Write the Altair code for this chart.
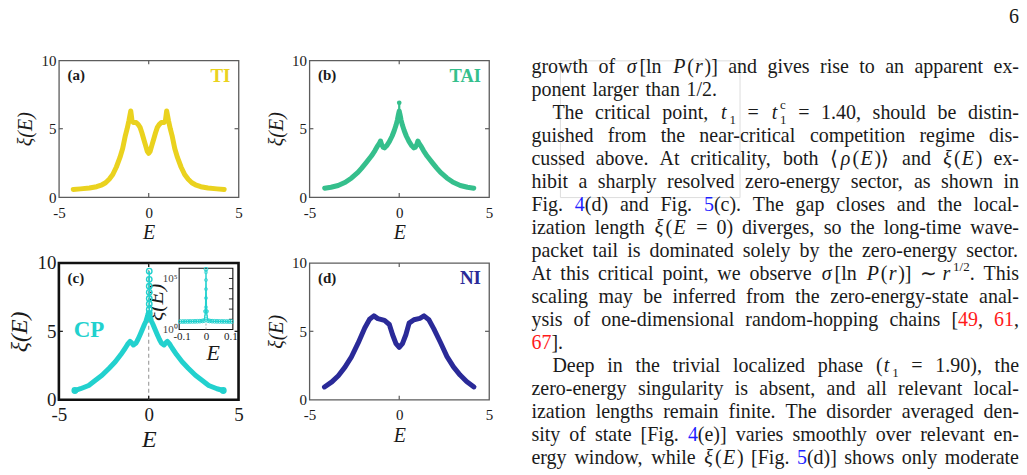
import re
import altair as alt
import pandas as pd

# ---------------- ξ(E) curves for the four phases ----------------
TI_E = [-4.2, -3.8, -3.3, -2.9, -2.6, -2.4, -2.2, -2.0, -1.8, -1.6, -1.45, -1.3, -1.2, -1.1, -1.0,
        -0.93, -0.85, -0.7, -0.58, -0.48, -0.38, -0.28, -0.18, -0.08, 0.0, 0.08, 0.18, 0.28, 0.38,
        0.48, 0.58, 0.7, 0.85, 0.93, 1.0, 1.1, 1.2, 1.3, 1.45, 1.6, 1.8, 2.0, 2.2, 2.4, 2.6, 2.9,
        3.3, 3.8, 4.2]
TI_XI = [0.56, 0.6, 0.66, 0.76, 0.9, 1.05, 1.3, 1.65, 2.2, 2.9, 3.55, 4.5, 5.0, 5.6, 6.3,
         5.6, 5.45, 5.45, 5.3, 5.1, 4.7, 4.25, 3.8, 3.35, 3.2, 3.35, 3.8, 4.25, 4.7,
         5.1, 5.3, 5.45, 5.45, 5.6, 6.3, 5.6, 5.0, 4.5, 3.55, 2.9, 2.2, 1.65, 1.3, 1.05, 0.9, 0.76,
         0.66, 0.6, 0.55]

TAI_E = [-4.15, -3.8, -3.4, -3.0, -2.65, -2.3, -2.1, -1.85, -1.55, -1.35, -1.2, -1.1, -1.04, -0.98,
         -0.9, -0.82, -0.7, -0.55, -0.4, -0.28, -0.18, -0.1, -0.05, 0.0, 0.05, 0.1, 0.18, 0.28, 0.4,
         0.55, 0.7, 0.82, 0.9, 0.98, 1.04, 1.1, 1.2, 1.35, 1.55, 1.85, 2.1, 2.3, 2.65, 3.0, 3.4, 3.8,
         4.15]
TAI_XI = [0.65, 0.72, 0.85, 1.08, 1.4, 1.8, 2.1, 2.5, 3.0, 3.4, 3.75, 3.95, 4.1, 3.85,
          3.65, 3.6, 3.75, 4.05, 4.45, 4.85, 5.25, 5.65, 6.0, 6.3, 6.0, 5.65, 5.25, 4.85, 4.45,
          4.05, 3.75, 3.6, 3.65, 3.85, 4.1, 3.95, 3.75, 3.4, 3.0, 2.5, 2.1, 1.8, 1.4, 1.08, 0.85, 0.72,
          0.65]
TAI_SPIKE_E = [0.0, 0.0]
TAI_SPIKE_XI = [6.0, 6.9]

CP_E = [-4.11, -3.8, -3.34, -3.0, -2.6, -2.2, -1.86, -1.55, -1.31, -1.15, -1.04, -0.95, -0.85, -0.7,
        -0.6, -0.48, -0.35, -0.24, -0.15, -0.07, -0.03, 0.03, 0.07, 0.15, 0.24, 0.35, 0.48, 0.6,
        0.7, 0.85, 0.95, 1.04, 1.15, 1.31, 1.55, 1.86, 2.2, 2.6, 3.0, 3.34, 3.8, 4.15]
CP_XI = [0.67, 0.8, 1.04, 1.38, 1.78, 2.3, 2.77, 3.3, 3.76, 4.1, 4.26, 4.15, 4.0, 4.15,
         4.4, 4.75, 5.15, 5.5, 5.75, 6.1, 6.3, 6.3, 6.1, 5.75, 5.5, 5.15, 4.75, 4.4,
         4.15, 4.0, 4.15, 4.26, 4.1, 3.76, 3.3, 2.77, 2.3, 1.78, 1.38, 1.04, 0.8, 0.67]
# open-circle samples climbing the E = 0 singularity
CP_COL_E = [0.03, 0.03, 0.03, 0.03, 0.03, 0.03, 0.03, 0.03]
CP_COL_XI = [6.3, 6.6, 7.0, 7.4, 7.85, 8.3, 8.8, 9.4]

NI_E = [-4.16, -3.75, -3.39, -3.02, -2.66, -2.29, -1.92, -1.65, -1.41, -1.19, -0.82, -0.55, -0.37,
        -0.18, 0.0, 0.18, 0.37, 0.55, 0.82, 1.15, 1.38, 1.65, 1.92, 2.29, 2.66, 3.02, 3.39, 3.75,
        4.16]
NI_XI = [0.93, 1.3, 1.75, 2.38, 3.13, 4.13, 5.25, 5.88, 6.13, 5.93, 5.8, 5.5, 4.75,
         4.1, 3.83, 4.1, 4.75, 5.6, 5.85, 5.95, 6.13, 5.85, 5.2, 4.2, 3.15, 2.4, 1.8, 1.33,
         0.93]

# inset of (c): ξ(E) near E = 0 on a log axis
IN_E = [-0.105, -0.095, -0.085, -0.075, -0.065, -0.055, -0.045, -0.035, -0.025, -0.015, -0.007,
        -0.002, 0.0, 0.002, 0.007, 0.015, 0.025, 0.035, 0.045, 0.055, 0.065, 0.075, 0.085, 0.095,
        0.105]
IN_XI = [6.0, 6.05, 6.1, 6.15, 6.2, 6.25, 6.3, 6.4, 6.6, 6.9, 7.6,
         60.0, 800000.0, 60.0, 7.6, 6.9, 6.6, 6.4, 6.3, 6.25, 6.2, 6.15, 6.1, 6.05,
         6.0]
IN_STEM_E = [0.0, 0.0, 0.0, 0.0, 0.0, 0.0]
IN_STEM_XI = [20.0, 150.0, 1200.0, 9000.0, 70000.0, 400000.0]

# axis ticks
X_TICKS = [-5, 0, 5]
Y_TICKS = [0, 5, 10]
IN_X_TICKS = [-0.1, 0, 0.1]
IN_Y_TICKS = [1, 100000]
IN_Y_MINOR = [10, 100, 1000, 10000, 100000]

# body text (markup: {i:..} italic, {sub:..}, {sup:..}, {ss:a|b} stacked, {b:..} blue, {r:..} red)
TEXT_LINES = [
    "growth of {i:σ}[ln {i:P}({i:r})] and gives rise to an apparent ex-",
    "ponent larger than 1/2.",
    "The critical point, {i:t}{sub:1} = {i:t}{ss:1|c} = 1.40, should be distin-",
    "guished from the near-critical competition regime dis-",
    "cussed above. At criticality, both ⟨{i:ρ}({i:E})⟩ and {i:ξ}({i:E}) ex-",
    "hibit a sharply resolved zero-energy sector, as shown in",
    "Fig. {b:4}(d) and Fig. {b:5}(c). The gap closes and the local-",
    "ization length {i:ξ}({i:E} = 0) diverges, so the long-time wave-",
    "packet tail is dominated solely by the zero-energy sector.",
    "At this critical point, we observe {i:σ}[ln {i:P}({i:r})] ∼ {i:r}{sup:1/2}. This",
    "scaling may be inferred from the zero-energy-state anal-",
    "ysis of one-dimensional random-hopping chains [{r:49}, {r:61},",
    "{r:67}].",
    "Deep in the trivial localized phase ({i:t}{sub:1} = 1.90), the",
    "zero-energy singularity is absent, and all relevant local-",
    "ization lengths remain finite. The disorder averaged den-",
    "sity of state [Fig. {b:4}(e)] varies smoothly over relevant en-",
    "ergy window, while {i:ξ}({i:E}) [Fig. {b:5}(d)] shows only moderate",
]
TEXT_JUSTIFY = [True, False, True, True, True, True, True, True, True,
                True, True, True, False, True, True, True, True, True]
TEXT_INDENT = [False, False, True, False, False, False, False, False, False,
               False, False, False, False, True, False, False, False, False]
PAGE_NUMBER = "6"

# ---------------- styling / layout ----------------
SERIF = "Liberation Serif"
INK = "#1a1a1a"
C_TI, C_TAI, C_CP, C_NI = "#EAD21E", "#35BF8C", "#22D1CE", "#2A2A98"
LINK_BLUE, LINK_RED = "#1f1fff", "#ff1a1a"

PW, PH = 180, 137             # plot area of each panel
GAP_X, GAP_Y = 71, 66
LEFT, TOP = 58, 59            # page position of panel (a)
PAGE_W, PAGE_H = 1027, 475
TICK_PX = 4

FS, SMALL = 20, 13
TXT_LEFT, TXT_RIGHT, PAR_INDENT = 531.5, 1020, 21
BASE0, LEAD = 72, 23
ITALIC_PRE, ITALIC_POST = 1.2, 1.8
SUB_DY, SUP_DY, SCRIPT_PRE = 5, -9, 1.0


def x_axis(big):
    return alt.Axis(values=X_TICKS, labelExpr="'' + datum.value", title="E",
                    domain=False, ticks=False, grid=False, labelFlush=False, labelOverlap=False,
                    labelFont=SERIF, labelFontSize=19 if big else 15, labelColor=INK,
                    labelPadding=6 if big else 8,
                    titleFont=SERIF, titleFontStyle="italic", titleFontWeight="normal",
                    titleFontSize=24 if big else 20, titleColor=INK,
                    titleX=PW / 2, titleY=40 if big else 36,
                    titleAlign="center", titleBaseline="middle")


def y_axis(big):
    return alt.Axis(values=Y_TICKS, labelExpr="'' + datum.value", title="ξ(E)",
                    domain=False, ticks=False, grid=False, labelFlush=False, labelOverlap=False,
                    labelFont=SERIF, labelFontSize=19 if big else 15, labelColor=INK,
                    labelPadding=3,
                    titleFont=SERIF, titleFontStyle="italic", titleFontWeight="normal",
                    titleFontSize=24 if big else 20, titleColor=INK,
                    titleX=-39 if big else -33, titleY=PH / 2, titleAngle=270,
                    titleAlign="center", titleBaseline="middle")


def enc_xy(big):
    x = alt.X("E:Q", scale=alt.Scale(domain=[-5, 5], nice=False, zero=False), axis=x_axis(big))
    y = alt.Y("xi:Q", scale=alt.Scale(domain=[0, 10], nice=False, zero=False), axis=y_axis(big))
    return x, y


def tick_marks(frame_color, big):
    """Inward ticks on all four sides of a panel frame."""
    dx = TICK_PX * 10 / PW
    dy = TICK_PX * 10 / PH
    rows = []
    for v in X_TICKS[1:-1]:
        rows.append(dict(E=v, E2=v, xi=Y_TICKS[0], xi2=Y_TICKS[0] + dy))
        rows.append(dict(E=v, E2=v, xi=Y_TICKS[-1] - dy, xi2=Y_TICKS[-1]))
    for v in Y_TICKS[1:-1]:
        rows.append(dict(E=X_TICKS[0], E2=X_TICKS[0] + dx, xi=v, xi2=v))
        rows.append(dict(E=X_TICKS[-1] - dx, E2=X_TICKS[-1], xi=v, xi2=v))
    x, y = enc_xy(big)
    return alt.Chart(pd.DataFrame(rows)).mark_rule(color=frame_color, strokeWidth=1.2).encode(
        x=x, x2="E2:Q", y=y, y2="xi2:Q")


def labels(tag, name, color, big=False, name_size=19):
    x, y = enc_xy(big)
    t1 = alt.Chart(pd.DataFrame([dict(E=-4.52, xi=8.55, lab=tag)])).mark_text(
        align="left", baseline="alphabetic", font=SERIF, fontWeight="bold", fontSize=15,
        color=INK).encode(x=x, y=y, text="lab:N")
    layers = [t1]
    if name:
        t2 = alt.Chart(pd.DataFrame([dict(E=4.55, xi=8.45, lab=name)])).mark_text(
            align="right", baseline="alphabetic", font=SERIF, fontWeight="bold",
            fontSize=name_size, color=color).encode(x=x, y=y, text="lab:N")
        layers.append(t2)
    return layers


def curve(E, XI, color, width=5):
    x, y = enc_xy(False)
    return alt.Chart(pd.DataFrame({"E": E, "xi": XI})).mark_line(
        color=color, strokeWidth=width, strokeCap="round", strokeJoin="round").encode(x=x, y=y)


FRAME = "#5c5c5c"
view_thin = alt.ViewBackground(stroke=FRAME, strokeWidth=1.3, fill="white")

# (a) TI
panel_a = alt.layer(
    curve(TI_E, TI_XI, C_TI), tick_marks(FRAME, False), *labels("(a)", "TI", C_TI)
).properties(width=PW, height=PH, view=view_thin)

# (b) TAI
x_b, y_b = enc_xy(False)
tai_tip = alt.Chart(pd.DataFrame({"E": TAI_SPIKE_E[-1:], "xi": TAI_SPIKE_XI[-1:]})).mark_point(
    filled=True, color=C_TAI, size=22, opacity=1).encode(x=x_b, y=y_b)
panel_b = alt.layer(
    curve(TAI_E, TAI_XI, C_TAI),
    curve(TAI_SPIKE_E, TAI_SPIKE_XI, C_TAI, width=2.2),
    tai_tip, tick_marks(FRAME, False), *labels("(b)", "TAI", C_TAI, name_size=18.5)
).properties(width=PW, height=PH, view=view_thin)

# (d) NI
panel_d = alt.layer(
    curve(NI_E, NI_XI, C_NI), tick_marks(FRAME, False), *labels("(d)", "NI", C_NI)
).properties(width=PW, height=PH, view=view_thin)

# (c) CP with log-scale inset
xc, yc = enc_xy(True)
zero_line = alt.Chart(pd.DataFrame([dict(E=0, xi=0, xi2=10)])).mark_rule(
    color="#9a9a9a", strokeWidth=1.1, strokeDash=[4, 3]).encode(x=xc, y=yc, y2="xi2:Q")
cp_curve = alt.Chart(pd.DataFrame({"E": CP_E, "xi": CP_XI})).mark_line(
    color=C_CP, strokeWidth=5, strokeCap="round", strokeJoin="round").encode(x=xc, y=yc)
cp_ends = alt.Chart(pd.DataFrame({"E": [CP_E[0], CP_E[-1]], "xi": [CP_XI[0], CP_XI[-1]]})).mark_point(
    filled=False, color=C_CP, size=30, strokeWidth=1.4, opacity=1).encode(x=xc, y=yc)
cp_col_line = alt.Chart(pd.DataFrame({"E": CP_COL_E, "xi": CP_COL_XI})).mark_line(
    color=C_CP, strokeWidth=1.6).encode(x=xc, y=yc)
cp_col_pts = alt.Chart(pd.DataFrame({"E": CP_COL_E, "xi": CP_COL_XI})).mark_point(
    filled=False, color=C_CP, size=30, strokeWidth=1.4, opacity=1).encode(x=xc, y=yc)
c_tag = alt.Chart(pd.DataFrame([dict(E=-4.52, xi=8.55, lab="(c)")])).mark_text(
    align="left", baseline="alphabetic", font=SERIF, fontWeight="bold", fontSize=15,
    color=INK).encode(x=xc, y=yc, text="lab:N")
cp_name = alt.Chart(pd.DataFrame([dict(E=-4.17, xi=4.6, lab="CP")])).mark_text(
    align="left", baseline="alphabetic", font=SERIF, fontWeight="bold", fontSize=23,
    color=C_CP).encode(x=xc, y=yc, text="lab:N")
main_c = alt.layer(zero_line, cp_curve, cp_ends, cp_col_line, cp_col_pts,
                   tick_marks("#111111", True), c_tag, cp_name)

# inset frame inside (c), in panel pixels
IN_L, IN_R, IN_T, IN_B = 120.5, 174.3, 5.3, 66.7
IN_DOM_X = [-0.11, 0.11]
IN_DOM_Y = [1, 1000000]
in_x_axis = alt.Axis(orient="bottom", offset=IN_B - PH, values=IN_X_TICKS,
                     labelExpr="'' + datum.value", domain=False, ticks=False, grid=False,
                     labelFlush=False, labelOverlap=False, labelFont=SERIF, labelFontSize=11,
                     labelColor=INK, labelPadding=1,
                     title="E", titleFont=SERIF, titleFontStyle="italic", titleFontWeight="normal",
                     titleFontSize=22, titleColor=INK, titleX=154, titleY=23,
                     titleAlign="center", titleBaseline="middle")
in_y_axis = alt.Axis(orient="left", offset=-IN_L, values=IN_Y_TICKS,
                     labelExpr="datum.value == 1 ? '10⁰' : '10⁵'", domain=False, ticks=False,
                     grid=False, labelFlush=False, labelOverlap=False, labelFont=SERIF,
                     labelFontSize=11, labelColor="#444", labelPadding=2,
                     title="ξ(E)", titleFont=SERIF, titleFontStyle="italic",
                     titleFontWeight="normal", titleFontSize=22, titleColor=INK,
                     titleX=-24, titleY=(IN_T + IN_B) / 2 + 3, titleAngle=270,
                     titleAlign="center", titleBaseline="middle")
xi_in = alt.X("e:Q", scale=alt.Scale(domain=IN_DOM_X, range=[IN_L, IN_R], nice=False, zero=False),
              axis=in_x_axis)
yi_in = alt.Y("v:Q", scale=alt.Scale(type="log", domain=IN_DOM_Y, range=[IN_B, IN_T], nice=False),
              axis=in_y_axis)
in_frame = alt.Chart(pd.DataFrame([dict(e=IN_DOM_X[0], e2=IN_DOM_X[1], v=IN_DOM_Y[0],
                                        v2=IN_DOM_Y[1])])).mark_rect(
    fill="white", stroke="#111111", strokeWidth=1.1).encode(x=xi_in, x2="e2:Q", y=yi_in, y2="v2:Q")
in_zero = alt.Chart(pd.DataFrame([dict(e=0, v=1, v2=6)])).mark_rule(
    color="#aaaaaa", strokeWidth=1, strokeDash=[2, 2]).encode(x=xi_in, y=yi_in, y2="v2:Q")
in_minor = alt.Chart(pd.DataFrame({"e": [IN_DOM_X[1] - 0.016] * len(IN_Y_MINOR),
                                   "e2": [IN_DOM_X[1]] * len(IN_Y_MINOR),
                                   "v": IN_Y_MINOR})).mark_rule(
    color="#111111", strokeWidth=0.9).encode(x=xi_in, x2="e2:Q", y=yi_in)
in_line = alt.Chart(pd.DataFrame({"e": IN_E, "v": IN_XI})).mark_line(
    color=C_CP, strokeWidth=1.3).encode(x=xi_in, y=yi_in)
in_pts = alt.Chart(pd.DataFrame({"e": IN_E, "v": IN_XI})).mark_point(
    filled=False, color=C_CP, size=14, strokeWidth=1, opacity=1).encode(x=xi_in, y=yi_in)
in_stem = alt.Chart(pd.DataFrame({"e": IN_STEM_E, "v": IN_STEM_XI})).mark_point(
    filled=False, color=C_CP, size=10, strokeWidth=0.8, opacity=0.8).encode(x=xi_in, y=yi_in)
inset_c = alt.layer(in_frame, in_zero, in_minor, in_line, in_pts, in_stem)

panel_c = alt.layer(main_c, inset_c).resolve_scale(x="independent", y="independent").resolve_axis(
    x="independent", y="independent").properties(
    width=PW, height=PH, view=alt.ViewBackground(stroke="#111111", strokeWidth=2.6, fill="white"))

# ---------------- page text (right column) ----------------
RM_W = {" ": 250, "(": 333, ")": 333, "[": 333, "]": 333, ",": 250, ".": 250, "-": 333,
        "/": 278, "=": 564, "⟨": 500, "⟩": 500, "∼": 600, "σ": 550, "ξ": 450, "ρ": 500,
        "A": 722, "D": 722, "E": 611, "F": 556, "P": 556, "T": 611,
        "a": 444, "b": 500, "c": 444, "d": 500, "e": 444, "f": 333, "g": 500, "h": 500,
        "i": 278, "j": 278, "k": 500, "l": 278, "m": 778, "n": 500, "o": 500, "p": 500,
        "q": 500, "r": 333, "s": 389, "t": 278, "u": 500, "v": 500, "w": 722, "x": 500,
        "y": 500, "z": 444}
IT_W = {"E": 611, "P": 611, "r": 389, "t": 278}
TOKEN = re.compile(r"\{(\w+):([^}]*)\}|([^{]+)")


def str_w(s, size, italic=False):
    tbl = IT_W if italic else RM_W
    return sum(tbl.get(ch, RM_W.get(ch, 500)) for ch in s) * size / 1000.0


def seg_w(tag, body):
    if tag == "ss":
        a, b = body.split("|")
        return SCRIPT_PRE + max(str_w(a, SMALL), str_w(b, SMALL))
    if tag in ("sub", "sup"):
        return SCRIPT_PRE + str_w(body, SMALL)
    if tag == "i":
        return ITALIC_PRE + str_w(body, FS, True) + ITALIC_POST
    return str_w(body, FS)


def word_segs(w):
    return [(tag, body) if tag else ("", plain) for tag, body, plain in TOKEN.findall(w)]


text_rows = []


def put(tag, body, x, base):
    if tag == "ss":
        a, b = body.split("|")
        text_rows.append(dict(px=x + SCRIPT_PRE, py=base + SUB_DY, t=a, c=INK, s=SMALL, it=False))
        text_rows.append(dict(px=x + SCRIPT_PRE, py=base + SUP_DY - 1, t=b, c=INK, s=SMALL,
                              it=False))
    elif tag == "sub":
        text_rows.append(dict(px=x + SCRIPT_PRE, py=base + SUB_DY, t=body, c=INK, s=SMALL,
                              it=False))
    elif tag == "sup":
        text_rows.append(dict(px=x + SCRIPT_PRE, py=base + SUP_DY, t=body, c=INK, s=SMALL,
                              it=False))
    elif tag == "i":
        text_rows.append(dict(px=x + ITALIC_PRE, py=base, t=body, c=INK, s=FS, it=True))
    else:
        col = LINK_BLUE if tag == "b" else LINK_RED if tag == "r" else INK
        text_rows.append(dict(px=x, py=base, t=body, c=col, s=FS, it=False))


for k, line in enumerate(TEXT_LINES):
    base = BASE0 + LEAD * k
    words = [word_segs(w) for w in line.split(" ")]
    widths = [sum(seg_w(t, b) for t, b in segs) for segs in words]
    x = TXT_LEFT + (PAR_INDENT if TEXT_INDENT[k] else 0)
    if TEXT_JUSTIFY[k] and len(words) > 1:
        gap = (TXT_RIGHT - x - sum(widths)) / (len(words) - 1)
    else:
        gap = 0.33 * FS
    for segs, w in zip(words, widths):
        xx = x
        for t, b in segs:
            put(t, b, xx, base)
            xx += seg_w(t, b)
        x += w + gap

text_rows.append(dict(px=TXT_RIGHT - str_w(PAGE_NUMBER, FS), py=22, t=PAGE_NUMBER, c=INK,
                      s=FS, it=False))
text_df = pd.DataFrame(text_rows)

# the text view sits in the third grid column; its scales map page pixels
ORIGIN_X = LEFT + 2 * (PW + GAP_X)
sx = alt.Scale(domain=[0, PAGE_W], range=[-ORIGIN_X, PAGE_W - ORIGIN_X], nice=False, zero=False)
sy = alt.Scale(domain=[0, PAGE_H], range=[-TOP, PAGE_H - TOP], nice=False, zero=False)


def text_layer(df, italic):
    return alt.Chart(df).mark_text(align="left", baseline="alphabetic", font=SERIF,
                                   fontStyle="italic" if italic else "normal").encode(
        x=alt.X("px:Q", scale=sx, axis=None), y=alt.Y("py:Q", scale=sy, axis=None),
        text="t:N", color=alt.Color("c:N", scale=None), size=alt.Size("s:Q", scale=None))


page_box = alt.Chart(pd.DataFrame([dict(px=0, px2=PAGE_W, py=0, py2=PAGE_H)])).mark_rect(
    opacity=0).encode(x=alt.X("px:Q", scale=sx, axis=None), x2="px2:Q",
                      y=alt.Y("py:Q", scale=sy, axis=None), y2="py2:Q")
text_view = alt.layer(
    page_box,
    text_layer(text_df[~text_df["it"]], False),
    text_layer(text_df[text_df["it"]], True),
).properties(width=PW, height=PH)

chart = alt.concat(
    panel_a, panel_b, text_view, panel_c, panel_d,
    columns=3, spacing={"row": GAP_Y, "column": GAP_X}, bounds="flush",
).properties(padding=0, background="white").configure_view(strokeWidth=0).configure(font=SERIF)

chart.save("out.html", embed_options={"renderer": "svg", "actions": False})
